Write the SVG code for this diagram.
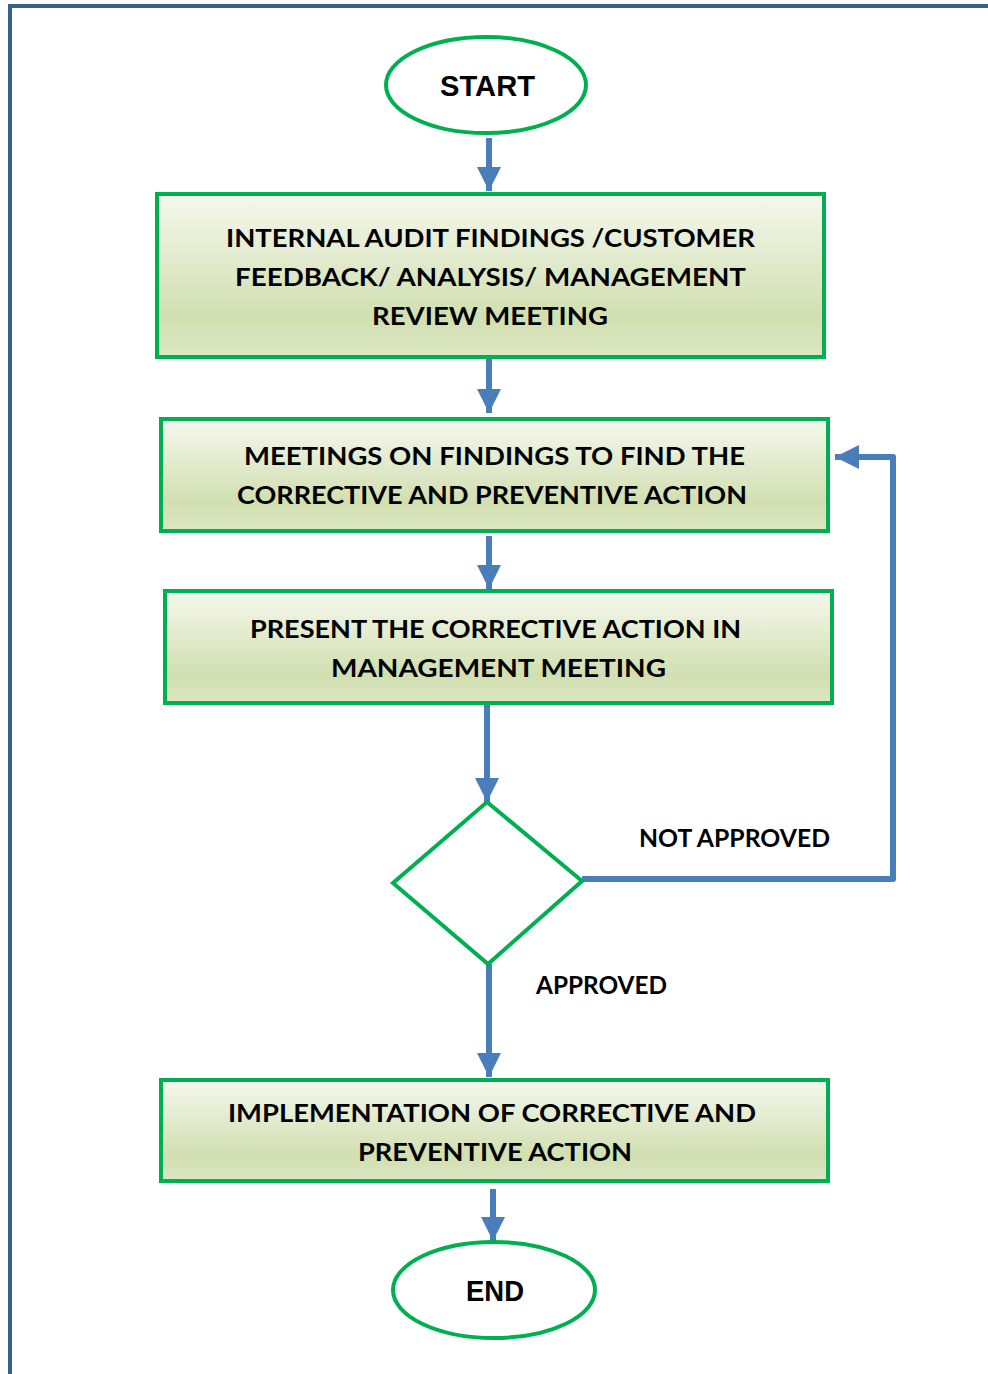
<svg xmlns="http://www.w3.org/2000/svg" width="988" height="1374" viewBox="0 0 988 1374">
<defs>
<linearGradient id="g" x1="0" y1="0" x2="0" y2="1">
<stop offset="0" stop-color="#f5f8ee"/>
<stop offset="0.75" stop-color="#d1dfb0"/>
<stop offset="1" stop-color="#dce7c4"/>
</linearGradient>
<marker id="ah" markerUnits="userSpaceOnUse" markerWidth="24" markerHeight="24" viewBox="0 0 24 24" refX="24" refY="12" orient="auto">
<path d="M0,0 L24,12 L0,24 Z" fill="#4a7ebb"/>
</marker>
<style>
.box{fill:url(#g);stroke:#00b050;stroke-width:4}
.term{fill:#fff;stroke:#00b050;stroke-width:4}
.t{font-family:Lato,"Liberation Sans",sans-serif;font-weight:bold;font-size:25px;fill:#000;text-anchor:middle}
.tt{font-family:"Liberation Sans",Arial,sans-serif;font-weight:bold;font-size:29px;fill:#000;text-anchor:middle}
.c{fill:none;stroke:#4a7ebb;stroke-width:6;marker-end:url(#ah)}
.c2{fill:none;stroke:#4a7ebb;stroke-width:6}
</style>
</defs>
<path d="M10,1374 L10,6 L988,6" fill="none" stroke="#3b5f8c" stroke-width="4"/>
<g id="connectors">
<line class="c" x1="489" y1="138" x2="489" y2="191"/>
<line class="c" x1="489" y1="357" x2="489" y2="413"/>
<line class="c" x1="489" y1="536" x2="489" y2="589"/>
<line class="c" x1="487" y1="703" x2="487" y2="802"/>
<line class="c" x1="489" y1="964" x2="489" y2="1077"/>
<line class="c" x1="493" y1="1189" x2="493" y2="1241"/>
<path class="c" d="M582,879 L893,879 L893,457 L835,457" stroke-linejoin="round"/>
</g>
<g id="start">
<ellipse class="term" cx="486" cy="85" rx="100" ry="48"/>
<text class="tt" x="487.5" y="96" textLength="95" lengthAdjust="spacingAndGlyphs">START</text>
</g>
<g id="findings">
<rect class="box" x="157" y="194" width="667" height="163"/>
<text class="t" x="490.5" y="247" textLength="529" lengthAdjust="spacingAndGlyphs">INTERNAL AUDIT FINDINGS /CUSTOMER</text>
<text class="t" x="490.5" y="286" textLength="511" lengthAdjust="spacingAndGlyphs">FEEDBACK/ ANALYSIS/ MANAGEMENT</text>
<text class="t" x="490" y="325" textLength="236" lengthAdjust="spacingAndGlyphs">REVIEW MEETING</text>
</g>
<g id="meetings">
<rect class="box" x="161" y="419" width="667" height="112"/>
<text class="t" x="494.5" y="465" textLength="501" lengthAdjust="spacingAndGlyphs">MEETINGS ON FINDINGS TO FIND THE</text>
<text class="t" x="492" y="504" textLength="510" lengthAdjust="spacingAndGlyphs">CORRECTIVE AND PREVENTIVE ACTION</text>
</g>
<g id="present">
<rect class="box" x="165" y="591" width="667" height="112"/>
<text class="t" x="495.5" y="638" textLength="491" lengthAdjust="spacingAndGlyphs">PRESENT THE CORRECTIVE ACTION IN</text>
<text class="t" x="498.5" y="677" textLength="335" lengthAdjust="spacingAndGlyphs">MANAGEMENT MEETING</text>
</g>
<g id="decision">
<polygon points="487,802 582,881 488,964 393,883" fill="#fff" stroke="#00b050" stroke-width="4"/>
</g>
<g id="labels">
<text class="t" x="734.5" y="847" textLength="191" lengthAdjust="spacingAndGlyphs">NOT APPROVED</text>
<text class="t" x="601.5" y="994" textLength="131" lengthAdjust="spacingAndGlyphs">APPROVED</text>
</g>
<g id="implementation">
<rect class="box" x="161" y="1080" width="667" height="101"/>
<text class="t" x="492" y="1122" textLength="528" lengthAdjust="spacingAndGlyphs">IMPLEMENTATION OF CORRECTIVE AND</text>
<text class="t" x="495" y="1161" textLength="274" lengthAdjust="spacingAndGlyphs">PREVENTIVE ACTION</text>
</g>
<g id="end">
<ellipse class="term" cx="494" cy="1290" rx="101" ry="48"/>
<text class="tt" x="495" y="1301" textLength="58" lengthAdjust="spacingAndGlyphs">END</text>
</g>
</svg>
